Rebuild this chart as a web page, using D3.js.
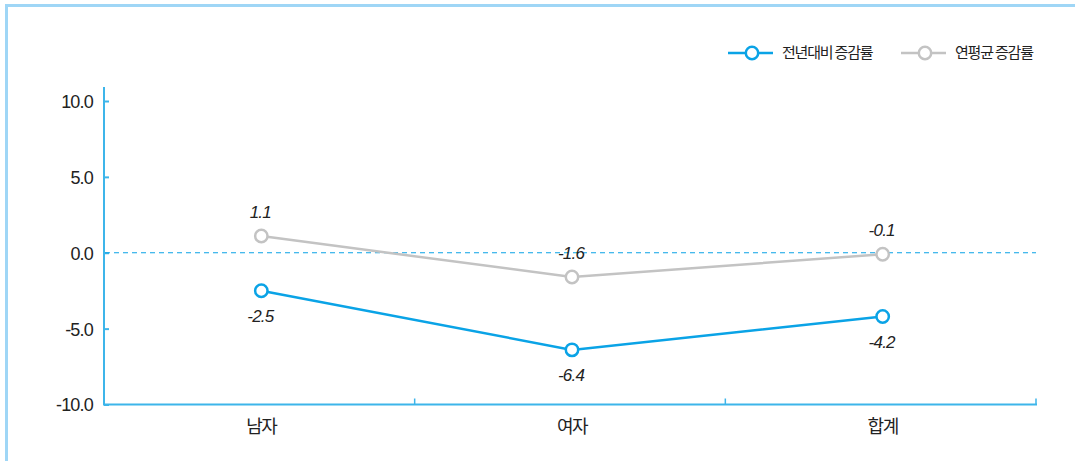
<!DOCTYPE html>
<html>
<head>
<meta charset="utf-8">
<script src="https://cdn.jsdelivr.net/npm/d3@7"></script>
<style>
  html, body { margin: 0; padding: 0; background: #fff; }
  svg { display: block; }
</style>
</head>
<body>
<svg id="chart" width="1075" height="461"></svg>
<script>
// Categories and series
const categories = ["남자", "여자", "합계"];
const yoyValues = [-2.5, -6.4, -4.2];     // 전년대비 증감률
const annualValues = [1.1, -1.6, -0.1];   // 연평균 증감률
const seriesNames = ["전년대비 증감률", "연평균 증감률"];
const yTicks = [10, 5, 0, -5, -10];

const W = 1075, H = 461;
const margin = { left: 104, right: 39, top: 87, bottom: 57 };
const svg = d3.select("#chart");

const axisColor = "#3db5ea";
const blue = "#0aa3e6";
const gray = "#c3c3c3";

// outer frame (top and left edges)
svg.append("path")
  .attr("d", `M6.5,${H} V5.5 H${W}`)
  .attr("fill", "none")
  .attr("stroke", "#9fd6f6")
  .attr("stroke-width", 3);

const x = d3.scaleBand().domain(categories)
  .range([margin.left, W - margin.right]).paddingInner(0).paddingOuter(0);
const y = d3.scaleLinear().domain([-10, 10]).range([404.5, 101]);
const cx = d => x(d) + x.bandwidth() / 2 + 2;

// y axis
const yAxis = svg.append("g").attr("transform", `translate(${margin.left},0)`)
  .call(d3.axisRight(y).tickValues(yTicks).tickSize(5).tickFormat(d3.format(".1f")));
yAxis.select(".domain").remove();
yAxis.selectAll(".tick line").attr("stroke", axisColor).attr("stroke-width", 2);
yAxis.selectAll(".tick text")
  .attr("x", -11).attr("text-anchor", "end").attr("dy", "0.36em")
  .attr("fill", "#222")
  .style("font-family", "'Liberation Sans', Arial, sans-serif")
  .style("font-size", "18px")
  .style("letter-spacing", "-0.8px")
  .text(d => d3.format(".1f")(d).replace("−", "-"));
svg.append("line")
  .attr("x1", margin.left).attr("x2", margin.left)
  .attr("y1", margin.top).attr("y2", y(-10) + 1)
  .attr("stroke", axisColor).attr("stroke-width", 2);

// x axis with ticks at band boundaries
svg.append("line")
  .attr("x1", margin.left).attr("x2", W - margin.right + 1)
  .attr("y1", y(-10)).attr("y2", y(-10))
  .attr("stroke", axisColor).attr("stroke-width", 2);
const bounds = categories.slice(1).map(c => x(c)).concat([W - margin.right]);
svg.selectAll(".xtick").data(bounds).enter().append("line")
  .attr("x1", d => d).attr("x2", d => d)
  .attr("y1", y(-10)).attr("y2", y(-10) - 6)
  .attr("stroke", axisColor).attr("stroke-width", 1.5);
svg.selectAll(".xlabel").data(categories).enter().append("text")
  .attr("x", d => cx(d)).attr("y", 427).attr("dy", "0.36em")
  .attr("text-anchor", "middle").attr("fill", "#222")
  .style("font-family", "'Noto Sans CJK KR', sans-serif")
  .style("font-size", "18px").style("letter-spacing", "-1.5px")
  .text(d => d);

// zero reference line
svg.append("line")
  .attr("x1", margin.left + 1).attr("x2", W - margin.right)
  .attr("y1", y(0)).attr("y2", y(0))
  .attr("stroke", blue).attr("stroke-width", 1.2)
  .attr("stroke-dasharray", "5,4");

const line = d3.line().x((d, i) => cx(categories[i])).y(d => y(d));

function drawSeries(values, color, labelOffset) {
  svg.append("path").datum(values)
    .attr("d", line).attr("fill", "none")
    .attr("stroke", color).attr("stroke-width", 2.5);
  svg.selectAll(null).data(values).enter().append("circle")
    .attr("cx", (d, i) => cx(categories[i])).attr("cy", d => y(d))
    .attr("r", 6.2).attr("fill", "#fff")
    .attr("stroke", color).attr("stroke-width", 2.5);
  svg.selectAll(null).data(values).enter().append("text")
    .attr("x", (d, i) => cx(categories[i]) - 1).attr("y", d => y(d) + labelOffset)
    .attr("dy", "0.36em").attr("text-anchor", "middle").attr("fill", "#222")
    .style("font-family", "'Liberation Sans', Arial, sans-serif")
    .style("font-style", "italic").style("font-size", "17px")
    .style("letter-spacing", "-0.8px")
    .text(d => d3.format(".1f")(d).replace("−", "-"));
}
drawSeries(annualValues, gray, -24);
drawSeries(yoyValues, blue, 25);

// legend
const legend = [
  { name: seriesNames[0], color: blue, x: 728 },
  { name: seriesNames[1], color: gray, x: 901 }
];
const lg = svg.selectAll(".legend").data(legend).enter().append("g")
  .attr("transform", d => `translate(${d.x},53)`);
lg.append("line").attr("x1", 0).attr("x2", 45).attr("y1", 0).attr("y2", 0)
  .attr("stroke", d => d.color).attr("stroke-width", 2.5);
lg.append("circle").attr("cx", 24).attr("cy", 0).attr("r", 6.2)
  .attr("fill", "#fff").attr("stroke", d => d.color).attr("stroke-width", 2.5);
lg.append("text").attr("x", 54).attr("y", 0).attr("dy", "0.36em")
  .attr("fill", "#222")
  .style("font-family", "'Noto Sans CJK KR', sans-serif")
  .style("font-size", "15px").style("letter-spacing", "-1.2px")
  .text(d => d.name);
</script>
</body>
</html>
